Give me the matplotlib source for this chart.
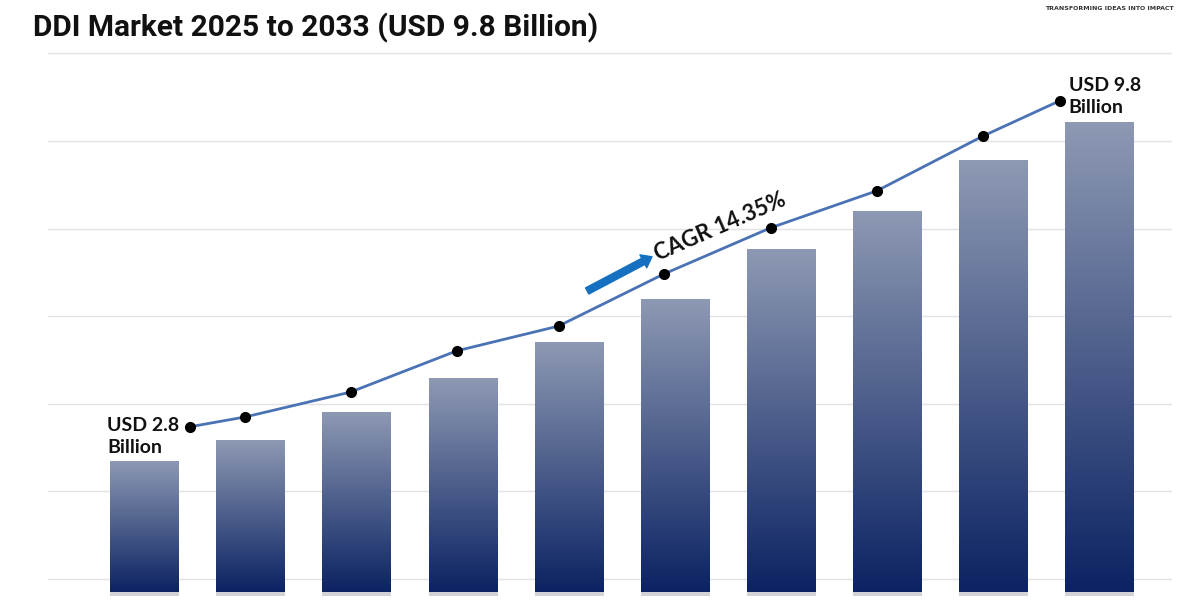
import numpy as np
import matplotlib.pyplot as plt
import matplotlib.patheffects as pe
from matplotlib.colors import LinearSegmentedColormap

# market size per year (bar heights, USD billion as drawn)
years = ['2024', '2025', '2026', '2027', '2028', '2029', '2030', '2031', '2032', '2033']
market = [2.80, 3.25, 3.85, 4.57, 5.34, 6.26, 7.33, 8.14, 9.23, 10.04]

# trend line drawn above the bars
trend_pos = [0.43, 0.95, 1.94, 2.94, 3.90, 4.89, 5.90, 6.90, 7.90, 8.62]
trend = [3.53, 3.74, 4.27, 5.15, 5.68, 6.79, 7.78, 8.57, 9.74, 10.49]

title = 'DDI Market 2025 to 2033 (USD 9.8 Billion)'
start_label = 'USD 2.8\nBillion'
end_label = 'USD 9.8\nBillion'
cagr_label = 'CAGR 14.35%'
grid_levels = [0.28, 2.16, 4.02, 5.90, 7.76, 9.64, 11.52]

fig = plt.figure(figsize=(12, 6), dpi=100)
ax = fig.add_axes([0.04, 0.0, 0.9367, 0.9333])

cmap = LinearSegmentedColormap.from_list('bars', ['#0b2363', '#8e99b3'])
grad = np.linspace(0, 1, 256).reshape(-1, 1)

x = np.arange(len(years))
bars = ax.bar(x, market, width=0.65, color='#0b2363', zorder=2,
              path_effects=[pe.SimplePatchShadow(offset=(0, -3), alpha=0.18), pe.Normal()])
for b in bars:
    im = ax.imshow(grad, cmap=cmap, origin='lower', aspect='auto', zorder=3,
                   extent=[b.get_x(), b.get_x() + b.get_width(), 0, b.get_height()])
    im.set_clip_path(b)

ax.plot(trend_pos, trend, color='#4a72b5', lw=2, marker='o', ms=7,
        mfc='black', mec='black', zorder=4)

lbl_font = dict(fontsize=14, fontweight='bold', family='Lato', color='#111111',
                linespacing=1.35, zorder=5)
ax.annotate(start_label, (trend_pos[0], trend[0]), xytext=(-83, -10),
            textcoords='offset pixels', ha='left', va='center', **lbl_font)
ax.annotate(end_label, (trend_pos[-1], trend[-1]), xytext=(9, 4),
            textcoords='offset pixels', ha='left', va='center', **lbl_font)

ax.text(5.42, 7.80, cagr_label, rotation=23.5, rotation_mode='anchor',
        ha='center', va='center', fontsize=16, fontweight='bold',
        family='Lato', color='#111111', zorder=5)
ax.annotate('', xy=(4.78, 7.16), xytext=(4.17, 6.43),
            arrowprops=dict(arrowstyle='simple,head_length=0.7,head_width=1.05,tail_width=0.5',
                            color='#1570c0', shrinkA=0, shrinkB=0), zorder=5)

ax.set_xlim(-0.91, 9.68)
ax.set_ylim(-0.171, 11.79)
ax.set_yticks(grid_levels)
ax.set_xticks([])
ax.grid(axis='y', color='#e2e2e2', lw=1)
ax.set_axisbelow(True)
ax.tick_params(left=False, labelleft=False)
for s in ax.spines.values():
    s.set_visible(False)

fig.text(33 / 1200, 1 - 28 / 600, title, fontsize=21.5, fontweight='bold',
         family='Roboto', va='center', ha='left', color='#111111')
fig.text(1109 / 1200, 1 - 8 / 600, 'TRANSFORMING IDEAS INTO IMPACT', fontsize=4.5,
         fontweight='bold', va='center', ha='center', color='#333333')

fig.savefig('out.png', dpi=100)
